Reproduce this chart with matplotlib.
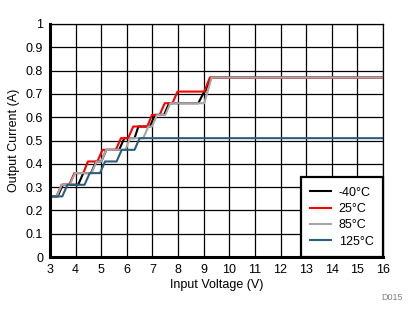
import matplotlib.pyplot as plt
import numpy as np

plt.rcParams['font.family'] = ['Liberation Sans', 'DejaVu Sans']

# staircase traces: input voltage (V) vs output current (A)
v_m40 = [3.0, 3.3, 3.5, 4.1, 4.3, 4.6, 4.8, 5.0, 5.2, 5.7, 5.9, 6.3, 6.45, 6.9, 7.1, 7.45, 7.65, 8.79, 9.02, 9.06, 9.27, 16.0]
i_m40 = [0.26, 0.26, 0.31, 0.31, 0.36, 0.36, 0.41, 0.41, 0.46, 0.46, 0.51, 0.51, 0.56, 0.56, 0.61, 0.61, 0.66, 0.66, 0.71, 0.71, 0.77, 0.77]

v_25 = [3.0, 3.25, 3.45, 3.75, 3.95, 4.3, 4.48, 4.85, 5.05, 5.57, 5.77, 6.05, 6.25, 6.8, 6.98, 7.28, 7.48, 7.78, 7.98, 9.02, 9.24, 16.0]
i_25 = [0.26, 0.26, 0.31, 0.31, 0.36, 0.36, 0.41, 0.41, 0.46, 0.46, 0.51, 0.51, 0.56, 0.56, 0.61, 0.61, 0.66, 0.66, 0.71, 0.71, 0.77, 0.77]

v_85 = [3.0, 3.26, 3.46, 3.78, 3.98, 4.62, 4.82, 5.0, 5.2, 5.95, 6.12, 6.64, 6.84, 6.98, 7.18, 7.5, 7.7, 9.02, 9.31, 16.0]
i_85 = [0.26, 0.26, 0.31, 0.31, 0.36, 0.36, 0.41, 0.41, 0.46, 0.46, 0.51, 0.51, 0.56, 0.56, 0.61, 0.61, 0.66, 0.66, 0.77, 0.77]

v_125 = [3.0, 3.48, 3.68, 4.35, 4.55, 4.95, 5.15, 5.6, 5.8, 6.3, 6.5, 16.0]
i_125 = [0.26, 0.26, 0.31, 0.31, 0.36, 0.36, 0.41, 0.41, 0.46, 0.46, 0.51, 0.51]

fig = plt.figure(figsize=(4.2, 3.24), dpi=100)
ax = fig.add_axes([50 / 420, 1 - 257 / 324, 333 / 420, 233 / 324])

ax.plot(v_m40, i_m40, color='black', linewidth=1.5, label='-40°C')
ax.plot(v_25, i_25, color='#ff0000', linewidth=1.5, label='25°C')
ax.plot(v_85, i_85, color='#a6a6a6', linewidth=1.5, label='85°C')
ax.plot(v_125, i_125, color='#2b5d7c', linewidth=1.5, label='125°C')

ax.set_xlim(3, 16)
ax.set_ylim(0, 1)
ax.set_xticks(np.arange(3, 17, 1))
ax.set_yticks(np.arange(0, 1.01, 0.1))
ax.set_yticklabels(['0', '0.1', '0.2', '0.3', '0.4', '0.5', '0.6', '0.7', '0.8', '0.9', '1'])
ax.tick_params(length=0, labelsize=9, pad=5)
ax.grid(True, color='black', linewidth=0.9)
ax.set_axisbelow(True)

# thick left/bottom axis lines, thin top/right
ax.spines['left'].set_linewidth(2.2)
ax.spines['bottom'].set_linewidth(2.2)
ax.spines['top'].set_linewidth(0.9)
ax.spines['right'].set_linewidth(0.9)

ax.set_xlabel('Input Voltage (V)', fontsize=9, labelpad=2)
ax.set_ylabel('Output Current (A)', fontsize=9, labelpad=4)

leg = ax.legend(loc='lower right', borderaxespad=0, fontsize=9, fancybox=False,
                handlelength=1.7, handletextpad=0.6, labelspacing=0.35,
                borderpad=0.75, framealpha=1)
leg.get_frame().set_edgecolor('black')
leg.get_frame().set_linewidth(1.6)

fig.text(392 / 420, 1 - 297 / 324, 'D015', fontsize=6.5, color='#808080', ha='center', va='center')

fig.savefig('out.png', dpi=100)
